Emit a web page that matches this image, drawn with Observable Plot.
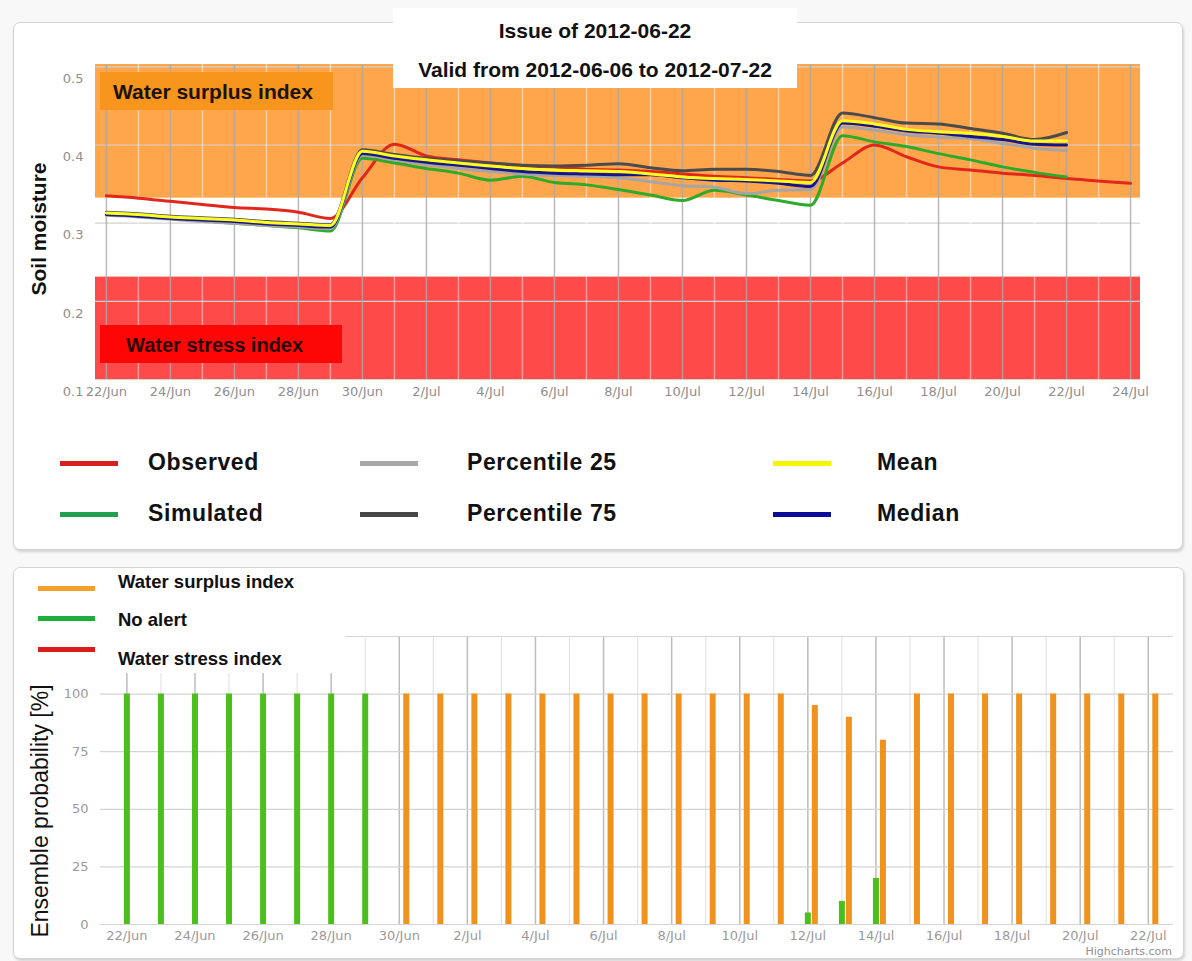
<!DOCTYPE html>
<html><head><meta charset="utf-8">
<script src="https://cdn.jsdelivr.net/npm/d3@7"></script>
<script src="https://cdn.jsdelivr.net/npm/@observablehq/plot@0.6"></script>
<style>
body{margin:0;background:#f8f8f8;}
#page{position:relative;width:1192px;height:961px;overflow:hidden;font-family:"Liberation Sans",Arial,sans-serif;}
.card{position:absolute;background:#fff;border:1px solid #d4d4d4;border-radius:7px;box-shadow:1px 2px 3px rgba(0,0,0,0.16);}
.abs{position:absolute;white-space:nowrap;}
#page svg{position:absolute;left:0;}
</style></head>
<body><div id="page"></div>
<script>
// ---------- data ----------
const dates = ["2012-06-22","2012-06-23","2012-06-24","2012-06-25","2012-06-26","2012-06-27","2012-06-28","2012-06-29","2012-06-30",
  "2012-07-01","2012-07-02","2012-07-03","2012-07-04","2012-07-05","2012-07-06","2012-07-07","2012-07-08","2012-07-09","2012-07-10",
  "2012-07-11","2012-07-12","2012-07-13","2012-07-14","2012-07-15","2012-07-16","2012-07-17","2012-07-18","2012-07-19","2012-07-20",
  "2012-07-21","2012-07-22","2012-07-23","2012-07-24"];
const observed  = [0.335,0.332,0.328,0.324,0.320,0.318,0.314,0.306,0.358,0.401,0.386,0.381,0.377,0.373,0.372,0.369,0.368,0.366,0.363,0.360,0.358,0.356,0.354,0.377,0.400,0.385,0.372,0.368,0.364,0.361,0.357,0.354,0.351];
const simulated = [0.312,0.309,0.306,0.303,0.300,0.297,0.294,0.290,0.383,0.377,0.370,0.364,0.355,0.360,0.352,0.349,0.343,0.336,0.329,0.342,0.336,0.329,0.323,0.412,0.404,0.398,0.389,0.381,0.372,0.365,0.359];
const percentile25 = [0.310,0.308,0.305,0.302,0.300,0.297,0.295,0.293,0.387,0.381,0.375,0.370,0.366,0.363,0.361,0.360,0.358,0.353,0.348,0.346,0.338,0.342,0.343,0.423,0.419,0.413,0.410,0.408,0.402,0.396,0.393];
const percentile75 = [0.314,0.312,0.309,0.307,0.305,0.302,0.300,0.298,0.394,0.388,0.383,0.380,0.377,0.374,0.373,0.374,0.376,0.371,0.367,0.369,0.369,0.366,0.361,0.441,0.435,0.428,0.427,0.421,0.415,0.407,0.416];
const meanVals  = [0.313,0.311,0.308,0.306,0.304,0.301,0.299,0.297,0.392,0.386,0.381,0.377,0.373,0.370,0.368,0.367,0.366,0.363,0.359,0.357,0.356,0.354,0.352,0.431,0.427,0.420,0.417,0.415,0.411,0.405,0.405];
const medianVals= [0.311,0.309,0.306,0.304,0.302,0.299,0.297,0.295,0.389,0.383,0.378,0.374,0.370,0.366,0.364,0.363,0.362,0.362,0.358,0.355,0.354,0.351,0.347,0.428,0.424,0.418,0.415,0.411,0.407,0.401,0.400];

const surplusBand = [0.332, 0.503];   // water surplus index threshold range
const stressBand  = [0.1, 0.231];     // water stress index threshold range

const probSurplus = [0,0,0,0,0,0,0,0,100,100,100,100,100,100,100,100,100,100,100,100,95,90,80,100,100,100,100,100,100,100,100];
const probNoAlert = [100,100,100,100,100,100,100,100,0,0,0,0,0,0,0,0,0,0,0,0,5,10,20,0,0,0,0,0,0,0,0];
const probStress  = [0,0,0,0,0,0,0,0,0,0,0,0,0,0,0,0,0,0,0,0,0,0,0,0,0,0,0,0,0,0,0];

const topTickLabels = ["22/Jun","24/Jun","26/Jun","28/Jun","30/Jun","2/Jul","4/Jul","6/Jul","8/Jul","10/Jul","12/Jul","14/Jul","16/Jul","18/Jul","20/Jul","22/Jul","24/Jul"];
const bottomTickLabels = ["22/Jun","24/Jun","26/Jun","28/Jun","30/Jun","2/Jul","4/Jul","6/Jul","8/Jul","10/Jul","12/Jul","14/Jul","16/Jul","18/Jul","20/Jul","22/Jul"];
const soilTicks = [0.1,0.2,0.3,0.4,0.5];
const probTicks = [0,25,50,75,100];
const probGrid = [0,25,50,75,100,125];

// ---------- helpers ----------
const page = document.getElementById("page");
const DAY = 864e5;
const toDate = s => new Date(s + "T00:00:00Z");
const t0 = toDate(dates[0]);
const dayAt = k => new Date(+t0 + k * DAY);
const series = arr => arr.map((v, i) => ({date: toDate(dates[i]), value: v}));
const allDates = dates.map(toDate);

function el(cls, css, html) {
  const d = document.createElement("div");
  d.className = cls; d.style.cssText = css; if (html != null) d.innerHTML = html;
  page.appendChild(d); return d;
}
function text(str, left, cy, size, weight, color, extra="") {
  return el("abs", `left:${left}px;top:${cy - size*0.6}px;font-size:${size}px;line-height:${size*1.2}px;font-weight:${weight};color:${color};${extra}`, str);
}

// cards
el("card", "left:13px;top:22px;width:1168px;height:526px;");
el("card", "left:13px;top:567px;width:1169px;height:390px;");

// ---------- top chart ----------
const topDates = allDates.slice(0, 33);
const topMajor = topDates.filter((d, i) => i % 2 === 0);
const topMinor = topDates.filter((d, i) => i % 2 === 1);
const topLabelMap = new Map(topMajor.map((d, i) => [+d, topTickLabels[i]]));

const topPlot = Plot.plot({
  width: 1192, height: 420,
  marginLeft: 95, marginRight: 52, marginTop: 64, marginBottom: 41,
  style: {background: "transparent", fontFamily: "DejaVu Sans", fontSize: "13px", color: "#8e8e8e", overflow: "visible"},
  x: {type: "utc", domain: [dayAt(-0.34), dayAt(32.31)]},
  y: {domain: [0.1, 0.503]},
  marks: [
    Plot.rect([surplusBand], {y1: d => d[0], y2: d => d[1], fill: "#ffa64d"}),
    Plot.rect([stressBand], {y1: d => d[0], y2: d => d[1], fill: "#ff4a4a"}),
    Plot.ruleY(soilTicks, {stroke: "#d2d2d2", strokeWidth: 1.2}),
    Plot.ruleX(topMinor, {stroke: "#ffffff", strokeOpacity: 0.45, strokeWidth: 1.5}),
    Plot.ruleX(topMajor, {stroke: "#a9a9a9", strokeOpacity: 0.8, strokeWidth: 1.5}),
    Plot.line(series(observed), {x: "date", y: "value", stroke: "#e3261a", strokeWidth: 3, curve: "monotone-x"}),
    Plot.line(series(simulated), {x: "date", y: "value", stroke: "#2eaa2a", strokeWidth: 3, curve: "monotone-x"}),
    Plot.line(series(percentile25), {x: "date", y: "value", stroke: "#a5a5a5", strokeWidth: 3, curve: "monotone-x"}),
    Plot.line(series(percentile75), {x: "date", y: "value", stroke: "#4b4b4b", strokeWidth: 3, curve: "monotone-x"}),
    Plot.line(series(medianVals), {x: "date", y: "value", stroke: "#16168c", strokeWidth: 3, curve: "monotone-x"}),
    Plot.line(series(meanVals), {x: "date", y: "value", stroke: "#ffff1e", strokeWidth: 3, curve: "monotone-x"}),
    Plot.axisX(topMajor, {tickSize: 0, tickPadding: 7, tickFormat: d => topLabelMap.get(+d), label: null}),
    Plot.axisY(soilTicks, {tickSize: 0, tickPadding: 12, dy: 12, tickFormat: d3.format(".1f"), label: null})
  ]
});
topPlot.style.top = "0px";
page.appendChild(topPlot);

// band labels
el("abs", "left:100px;top:72px;width:233px;height:38px;background:#f7951d;");
text("Water surplus index", 113, 92, 21, "bold", "#1a1208");
el("abs", "left:100px;top:325px;width:242px;height:38px;background:#ff0606;");
text("Water stress index", 126, 345, 20, "bold", "#2a0505");

// title box
el("abs", "left:393px;top:8px;width:404px;height:80px;background:#fff;");
el("abs", "left:393px;top:18px;width:404px;text-align:center;font-size:21px;line-height:25px;font-weight:bold;color:#111;", "Issue of 2012-06-22");
el("abs", "left:393px;top:57px;width:404px;text-align:center;font-size:21px;line-height:25px;font-weight:bold;color:#111;", "Valid from 2012-06-06 to 2012-07-22");

// y title
el("abs", "left:39px;top:229px;transform:translate(-50%,-50%) rotate(-90deg);font-size:21px;font-weight:bold;color:#111;", "Soil moisture");

// top legend
const topLegend = [
  {name: "Observed", color: "#d82020", x: 60, tx: 148, y: 463},
  {name: "Simulated", color: "#22a052", x: 60, tx: 148, y: 514},
  {name: "Percentile 25", color: "#a8a8a8", x: 360, tx: 467, y: 463},
  {name: "Percentile 75", color: "#474747", x: 360, tx: 467, y: 514},
  {name: "Mean", color: "#f5f500", x: 773, tx: 877, y: 463},
  {name: "Median", color: "#0c0c96", x: 773, tx: 877, y: 514}
];
for (const it of topLegend) {
  el("abs", `left:${it.x}px;top:${it.y - 2.5}px;width:58px;height:5px;background:${it.color};`);
  text(it.name, it.tx, it.y, 23, "bold", "#111", "letter-spacing:0.6px;");
}

// ---------- bottom chart ----------
const botDates = allDates.slice(0, 31);
const botMajor = botDates.filter((d, i) => i % 2 === 0);
const botMinor = botDates.filter((d, i) => i % 2 === 1);
const botLabelMap = new Map(botMajor.map((d, i) => [+d, bottomTickLabels[i]]));
const bars = arr => series(arr).filter(d => d.value > 0);

const botPlot = Plot.plot({
  width: 1192, height: 394,
  marginLeft: 100, marginRight: 19, marginTop: 69, marginBottom: 37,
  style: {background: "transparent", fontFamily: "DejaVu Sans", fontSize: "13px", color: "#9a9a9a", overflow: "visible"},
  x: {type: "utc", domain: [dayAt(-0.775), dayAt(30.74)]},
  y: {domain: [0, 125]},
  marks: [
    Plot.ruleX(botMinor, {stroke: "#e4e4e4", strokeWidth: 1.2}),
    Plot.ruleX(botMajor, {stroke: "#bdbdbd", strokeWidth: 1.5}),
    Plot.ruleY(probGrid, {stroke: "#d4d4d4", strokeWidth: 1.2}),
    Plot.ruleX(bars(probNoAlert), {x: "date", y1: 0, y2: "value", stroke: "#4cbf1e", strokeWidth: 6}),
    Plot.ruleX(bars(probSurplus), {x: "date", y1: 0, y2: "value", stroke: "#f0921e", strokeWidth: 6, dx: 7}),
    Plot.ruleX(bars(probStress), {x: "date", y1: 0, y2: "value", stroke: "#e02020", strokeWidth: 6, dx: 14}),
    Plot.axisX(botMajor, {tickSize: 0, tickPadding: 6, tickFormat: d => botLabelMap.get(+d), label: null}),
    Plot.axisY(probTicks, {tickSize: 0, tickPadding: 12, label: null})
  ]
});
botPlot.style.top = "567px";
page.appendChild(botPlot);

// bottom legend (white box over grid)
el("abs", "left:14px;top:568px;width:331px;height:105px;background:#fff;border-top-left-radius:7px;");
const botLegend = [
  {name: "Water surplus index", color: "#f2a12a", y: 588, ty: 582},
  {name: "No alert", color: "#1eae3e", y: 618, ty: 620},
  {name: "Water stress index", color: "#dc1c1c", y: 649, ty: 659}
];
for (const it of botLegend) {
  el("abs", `left:38px;top:${it.y - 2.5}px;width:57px;height:5px;background:${it.color};`);
  text(it.name, 118, it.ty, 18.5, "bold", "#111");
}

el("abs", "left:40px;top:811px;transform:translate(-50%,-50%) rotate(-90deg);font-size:23px;color:#111;", "Ensemble probability [%]");
el("abs", "right:20px;top:945px;font-size:11px;line-height:13px;color:#909090;font-family:'DejaVu Sans';", "Highcharts.com");
</script></body></html>
